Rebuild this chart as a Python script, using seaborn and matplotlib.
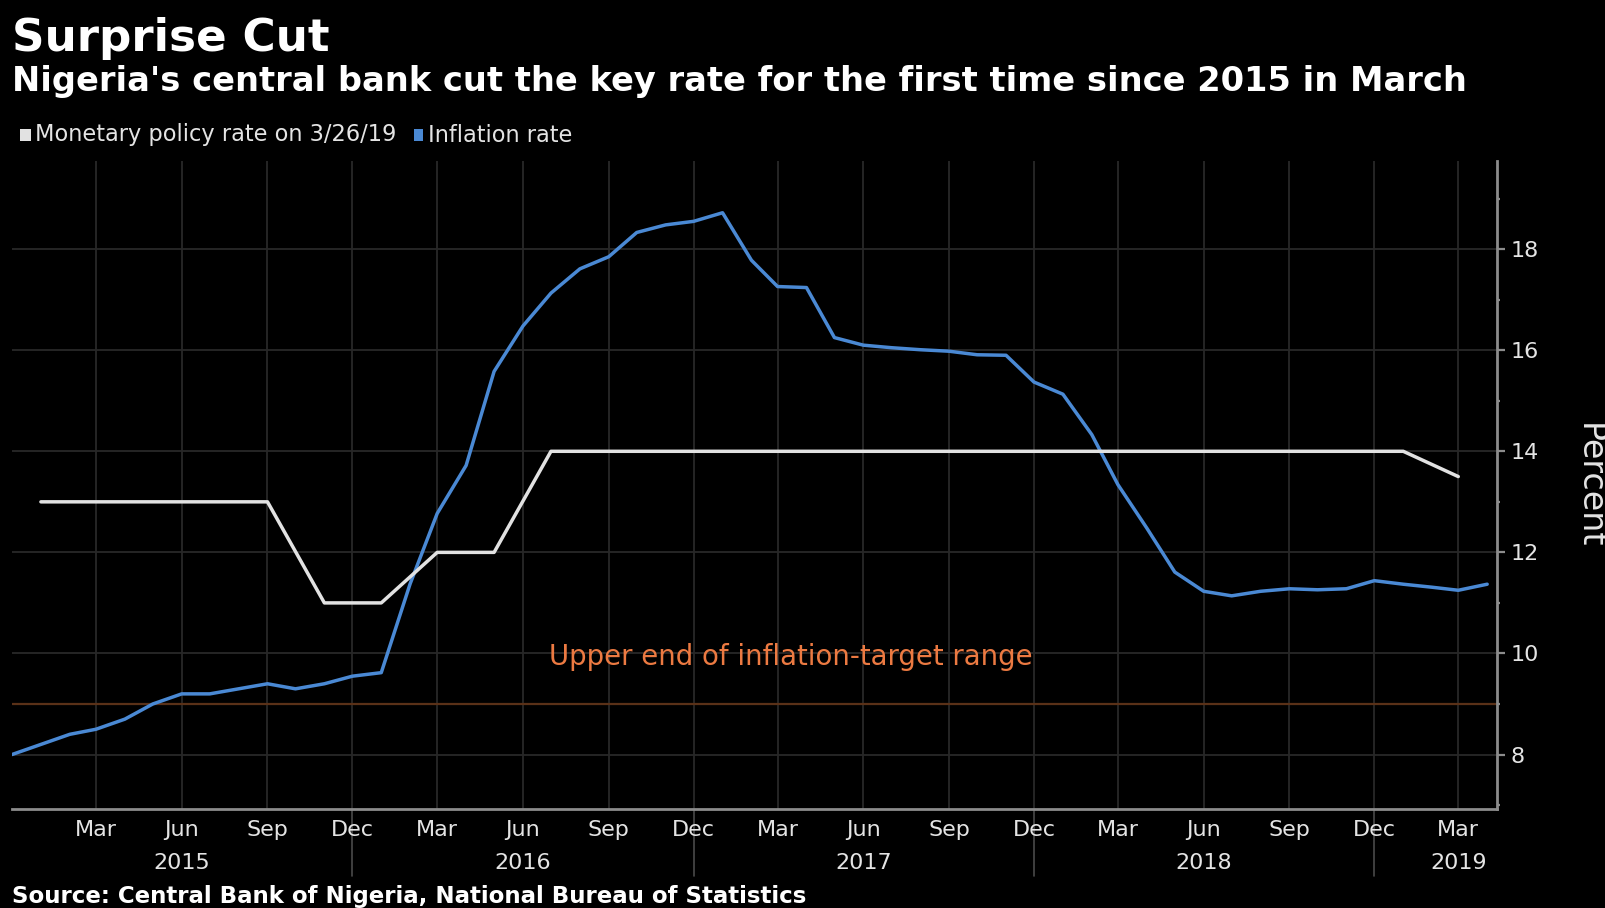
import numpy as np
import pandas as pd
import matplotlib
matplotlib.use("Agg")
import matplotlib.pyplot as plt
import matplotlib.dates as mdates
import matplotlib.transforms as mtransforms
from matplotlib.patches import Rectangle
import seaborn as sns

# ---------------- data ----------------
inflation_months = pd.date_range("2014-12-01", "2019-04-01", freq="MS")
inflation_values = [8.0, 8.2, 8.4, 8.5, 8.7, 9.0, 9.2, 9.2, 9.3, 9.4, 9.3, 9.4, 9.55,
                    9.62, 11.38, 12.77, 13.72, 15.58, 16.48, 17.13, 17.61, 17.85, 18.33, 18.48, 18.55,
                    18.72, 17.78, 17.26, 17.24, 16.25, 16.10, 16.05, 16.01, 15.98, 15.91, 15.90, 15.37,
                    15.13, 14.33, 13.34, 12.48, 11.61, 11.23, 11.14, 11.23, 11.28, 11.26, 11.28, 11.44,
                    11.37, 11.31, 11.25, 11.37]
policy_dates = ["2015-01-01", "2015-09-01", "2015-11-01", "2016-01-01", "2016-03-01",
                "2016-05-01", "2016-07-01", "2019-01-01", "2019-03-01"]
policy_values = [13, 13, 11, 11, 12, 12, 14, 14, 13.5]
target_upper = 9.0

series_names = ["Monetary policy rate on 3/26/19", "Inflation rate"]
year_labels = ["2015", "2016", "2017", "2018", "2019"]
year_label_dates = ["2015-06-01", "2016-06-01", "2017-06-01", "2018-06-01", "2019-03-01"]
year_separator_dates = ["2015-12-01", "2016-12-01", "2017-12-01", "2018-12-01"]
y_major = [8, 10, 12, 14, 16, 18]
y_minor = [7, 9, 11, 13, 15, 17, 19]

title = "Surprise Cut"
subtitle = "Nigeria's central bank cut the key rate for the first time since 2015 in March"
source = "Source: Central Bank of Nigeria, National Bureau of Statistics"
annotation = "Upper end of inflation-target range"

infl_df = pd.DataFrame({"date": inflation_months, "value": inflation_values})
pol_df = pd.DataFrame({"date": pd.to_datetime(policy_dates), "value": policy_values})

# ---------------- style ----------------
BG = "#000000"
GRID = "#282828"
SPINE = "#8c8c8c"
TXT = "#e4e4e4"
BLUE = "#4a89d4"
WHITE = "#e2e2e2"
ORANGE_LINE = "#5a3118"
ORANGE_TXT = "#ec7a42"
SEP = "#4a4a4a"

sns.set_theme(style="dark", rc={"axes.facecolor": BG, "figure.facecolor": BG})
plt.rcParams["font.family"] = ["DejaVu Sans"]

W, H = 1605, 908
fig = plt.figure(figsize=(W / 100, H / 100), dpi=100)
renderer = fig.canvas.get_renderer()


def fit(text, target_px, **kw):
    t = fig.text(0, 0, text, fontsize=10, **kw)
    w = t.get_window_extent(renderer).width
    t.remove()
    return 10 * target_px / w


ax_l, ax_r, ax_t, ax_b = 12, 1496.5, 160.7, 808.6
ax = fig.add_axes([ax_l / W, 1 - ax_b / H, (ax_r - ax_l) / W, (ax_b - ax_t) / H])
ax.set_facecolor(BG)

ax.axhline(target_upper, color=ORANGE_LINE, lw=1.6, zorder=1)
sns.lineplot(data=infl_df, x="date", y="value", ax=ax, color=BLUE, lw=2.5, zorder=3)
sns.lineplot(data=pol_df, x="date", y="value", ax=ax, color=WHITE, lw=2.5, zorder=4)

ax.set_xlim(pd.Timestamp("2014-12-01"), pd.Timestamp("2019-04-11"))
ax.set_ylim(6.93, 19.75)
ax.set_xlabel("")
ax.set_ylabel("")

# x ticks
major_x = pd.date_range("2015-03-01", "2019-03-01", freq="3MS")
minor_x = pd.date_range("2015-01-01", "2019-04-01", freq="MS")
ax.set_xticks(major_x)
ax.set_xticks(minor_x, minor=True)
ax.xaxis.set_major_formatter(mdates.DateFormatter("%b"))

ax.yaxis.tick_right()
ax.set_yticks(y_major)
ax.set_yticks(y_minor, minor=True)
ax.set_yticklabels([str(v) for v in y_major])

tick_fs = fit("Dec", 43)
ax.tick_params(axis="x", which="both", direction="out", length=3, width=1.2,
               color=SPINE, labelcolor=TXT, labelsize=tick_fs, pad=5)
ax.tick_params(axis="y", which="major", direction="out", length=6, width=1.6,
               color=SPINE, labelcolor=TXT, labelsize=tick_fs, pad=4,
               left=False, right=True, labelleft=False, labelright=True)
ax.tick_params(axis="y", which="minor", direction="out", length=2.5, width=1.6,
               color=SPINE, left=False, right=True)

ax.grid(which="major", axis="both", color=GRID, lw=1.3)
ax.grid(which="minor", visible=False)

for s in ["left", "top"]:
    ax.spines[s].set_visible(False)
for s in ["right", "bottom"]:
    ax.spines[s].set_visible(True)
    ax.spines[s].set_color(SPINE)
    ax.spines[s].set_linewidth(2)

blend = mtransforms.blended_transform_factory(ax.transData, ax.transAxes)
ax_h = ax_b - ax_t
for lab, d in zip(year_labels, year_label_dates):
    ax.text(pd.Timestamp(d), (ax_b - 863) / ax_h, lab, transform=blend,
            ha="center", va="center", color=TXT, fontsize=tick_fs)
for d in year_separator_dates:
    ax.plot([pd.Timestamp(d)] * 2, [0, (ax_b - 876) / ax_h], transform=blend,
            color=SEP, lw=1.2, clip_on=False, zorder=0)

# annotation
ann_fs = fit(annotation, 486)
ax.text(pd.Timestamp("2017-03-15"), 9.93, annotation, ha="center", va="center",
        color=ORANGE_TXT, fontsize=ann_fs, zorder=5)

# Percent label
pct_fs = fit("Percent", 125)
fig.text(1589 / W, 1 - 486 / H, "Percent", rotation=270, ha="center", va="center",
         color=TXT, fontsize=pct_fs)

# titles
t_fs = fit(title, 318, fontweight="bold")
fig.text(12 / W, 1 - 51 / H, title, fontsize=t_fs, fontweight="bold", color="white",
         ha="left", va="baseline")
st_fs = fit(subtitle, 1452, fontweight="bold")
fig.text(12 / W, 1 - 91 / H, subtitle, fontsize=st_fs, fontweight="bold", color="white",
         ha="left", va="baseline")

# legend
leg_fs = fit(series_names[0], 362)
leg_y = 135
fig.patches.append(Rectangle((20 / W, 1 - (leg_y + 6) / H), 11 / W, 12 / H,
                             transform=fig.transFigure, facecolor=WHITE, edgecolor="none"))
fig.text(35 / W, 1 - leg_y / H, series_names[0], fontsize=leg_fs, color=TXT,
         ha="left", va="center")
fig.patches.append(Rectangle((414 / W, 1 - (leg_y + 6) / H), 9 / W, 12 / H,
                             transform=fig.transFigure, facecolor=BLUE, edgecolor="none"))
fig.text(428 / W, 1 - leg_y / H, series_names[1], fontsize=leg_fs, color=TXT,
         ha="left", va="center")

# source
src_fs = fit(source, 797, fontweight="bold")
fig.text(12 / W, 1 - 897 / H, source, fontsize=src_fs, fontweight="bold", color="white",
         ha="left", va="center")

fig.savefig("out.png", dpi=100, facecolor=BG)
